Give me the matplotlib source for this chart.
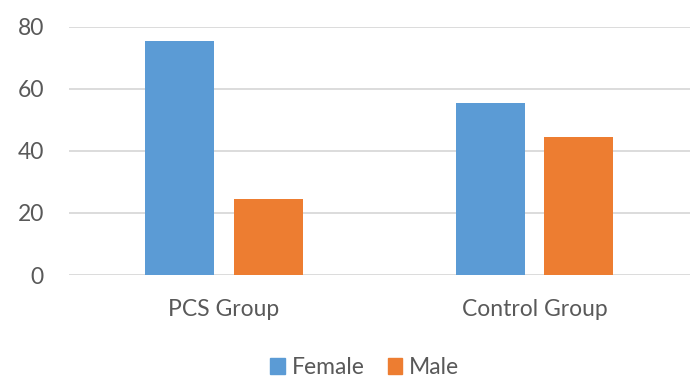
import matplotlib
matplotlib.use('Agg')
import numpy as np
import matplotlib.pyplot as plt
from matplotlib.patches import Patch

# data
groups = ['PCS Group', 'Control Group']
female = [75.6, 55.6]
male = [24.4, 44.4]
yticks = [0, 20, 40, 60, 80]

plt.rcParams['font.family'] = ['Lato', 'DejaVu Sans']
text_col = '#595959'
blue = '#5B9BD5'
orange = '#ED7D31'

fig = plt.figure(figsize=(6.96, 3.79), dpi=100)
ax = fig.add_axes([0.099, 0.2744, 0.892, 0.6544])

x = np.arange(len(groups))
w = 0.222
off = 0.1425
ax.bar(x - off, female, width=w, color=blue, zorder=3)
ax.bar(x + off, male, width=w, color=orange, zorder=3)

ax.set_xlim(-0.5, 1.5)
ax.set_ylim(0, 80)
ax.set_yticks(yticks)
ax.yaxis.grid(True, color='#d9d9d9', linewidth=1.3, zorder=0)
ax.set_xticks(x)
ax.set_xticklabels(groups)
ax.tick_params(axis='both', length=0, labelsize=16.5, labelcolor=text_col)
ax.tick_params(axis='x', pad=17)
ax.tick_params(axis='y', pad=18)
for s in ax.spines.values():
    s.set_visible(False)

handles = [Patch(color=blue, label='Female'), Patch(color=orange, label='Male')]
fig.legend(handles=handles, loc='center', bbox_to_anchor=(0.524, 0.03),
           ncol=2, frameon=False, fontsize=16.5, labelcolor=text_col,
           handlelength=0.65, handleheight=0.65, handletextpad=0.3,
           columnspacing=1.0)

fig.savefig('out.png', dpi=100)
